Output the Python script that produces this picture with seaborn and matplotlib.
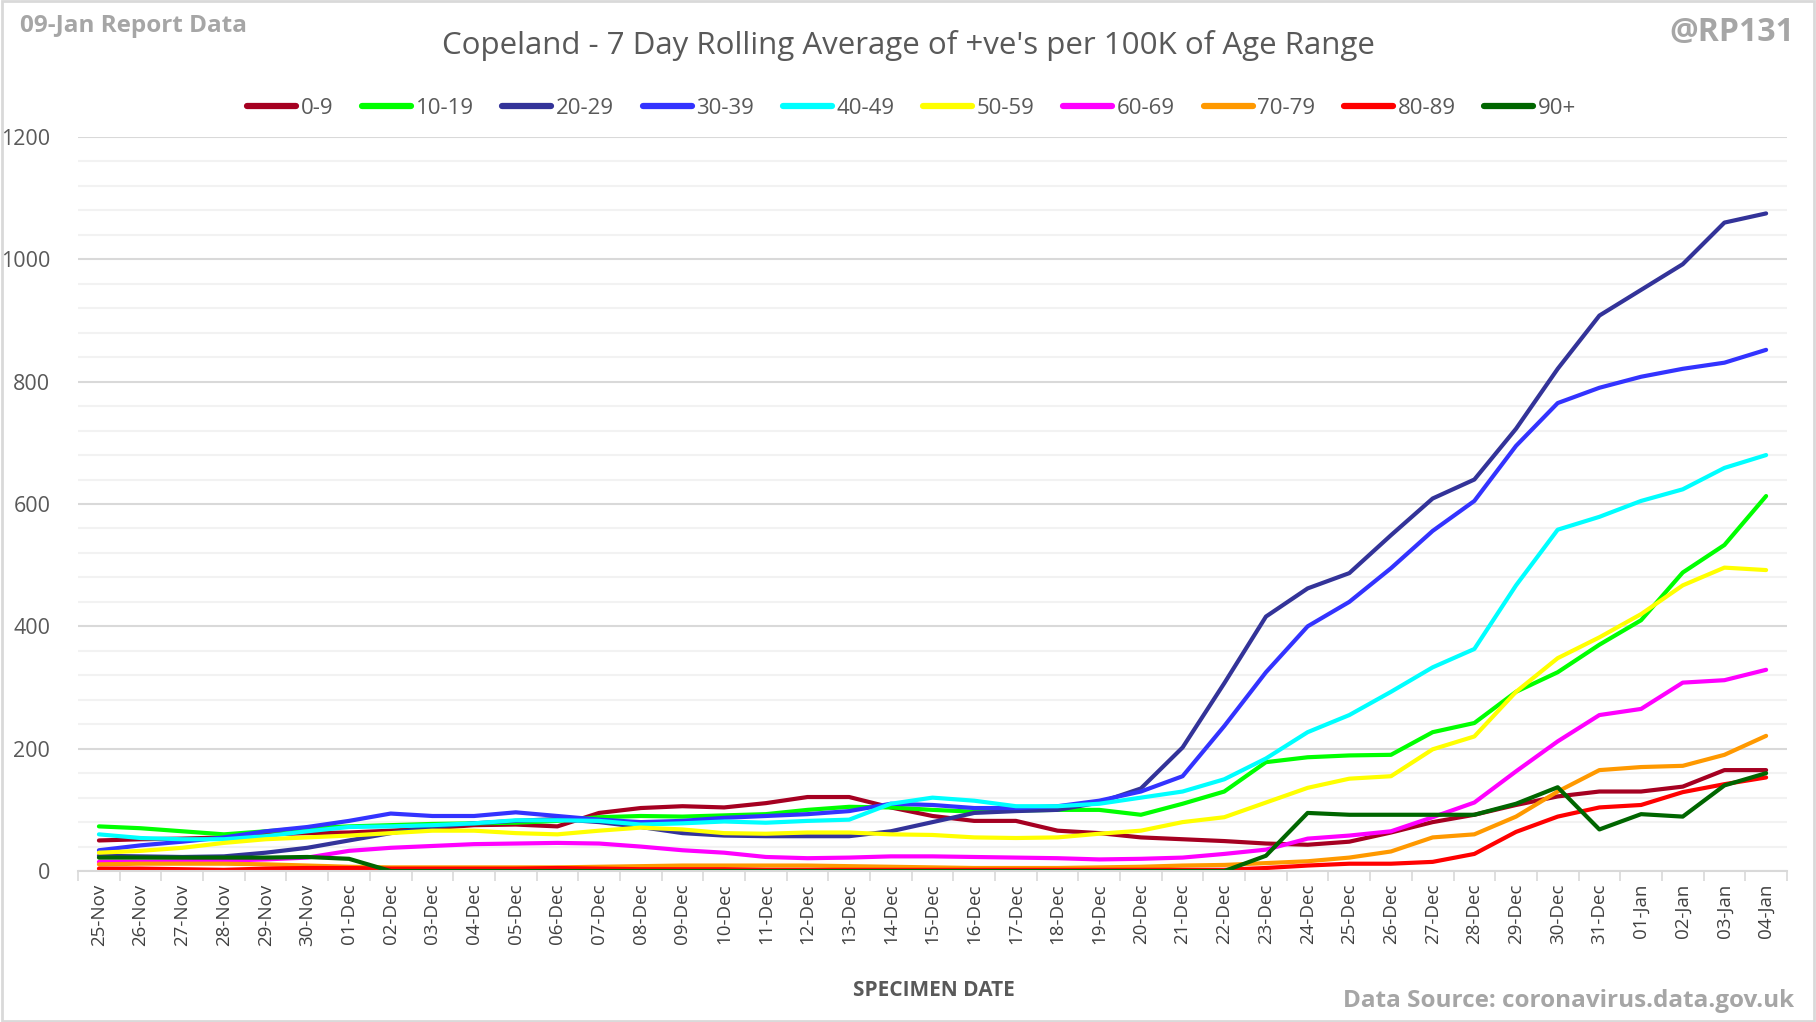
import numpy as np
import pandas as pd
import matplotlib
matplotlib.use("Agg")
import matplotlib.pyplot as plt
import seaborn as sns

# Specimen dates (category axis)
dates = ["25-Nov", "26-Nov", "27-Nov", "28-Nov", "29-Nov", "30-Nov",
         "01-Dec", "02-Dec", "03-Dec", "04-Dec", "05-Dec", "06-Dec", "07-Dec",
         "08-Dec", "09-Dec", "10-Dec", "11-Dec", "12-Dec", "13-Dec", "14-Dec",
         "15-Dec", "16-Dec", "17-Dec", "18-Dec", "19-Dec", "20-Dec", "21-Dec",
         "22-Dec", "23-Dec", "24-Dec", "25-Dec", "26-Dec", "27-Dec", "28-Dec",
         "29-Dec", "30-Dec", "31-Dec", "01-Jan", "02-Jan", "03-Jan", "04-Jan"]

# 7 day rolling average of positives per 100K, by age range
age_0_9 = [50, 52, 53, 55, 60, 62, 63, 66, 70, 75, 76, 73, 95, 103, 106, 104, 111,
           121, 121, 104, 90, 82, 82, 66, 62, 55, 52, 49, 45, 43, 48, 63, 80, 92,
           108, 122, 130, 130, 138, 165, 165]
age_10_19 = [73, 70, 65, 60, 65, 70, 73, 75, 77, 78, 79, 82, 88, 90, 89, 91, 93,
             100, 105, 104, 100, 97, 99, 100, 100, 92, 110, 130, 178, 186, 189,
             190, 227, 242, 293, 325, 370, 410, 488, 533, 613]
age_20_29 = [25, 24, 23, 24, 30, 38, 50, 62, 72, 78, 82, 85, 80, 72, 62, 58, 57,
             57, 57, 65, 80, 95, 98, 100, 112, 135, 202, 307, 416, 462, 487, 549,
             609, 640, 723, 821, 908, 950, 992, 1060, 1075]
age_30_39 = [34, 42, 48, 55, 65, 72, 82, 94, 90, 90, 96, 90, 84, 80, 82, 87, 90,
             93, 98, 110, 108, 103, 103, 106, 115, 130, 155, 237, 325, 400, 440,
             495, 556, 605, 695, 765, 790, 808, 821, 831, 852]
age_40_49 = [60, 54, 52, 52, 57, 65, 72, 73, 75, 78, 83, 83, 82, 76, 78, 81, 79,
             82, 84, 110, 120, 115, 106, 106, 110, 120, 130, 150, 184, 227, 255,
             293, 333, 363, 467, 558, 579, 605, 624, 659, 680]
age_50_59 = [30, 33, 38, 46, 52, 55, 58, 62, 66, 66, 62, 60, 66, 71, 68, 62, 61,
             63, 63, 60, 59, 55, 54, 55, 61, 66, 80, 88, 112, 136, 151, 155, 199,
             220, 293, 348, 382, 420, 467, 496, 492]
age_60_69 = [15, 15, 16, 17, 19, 22, 33, 38, 41, 44, 45, 46, 45, 40, 34, 30, 23,
             21, 22, 24, 24, 23, 22, 21, 19, 20, 22, 28, 35, 53, 58, 65, 88, 112,
             163, 212, 255, 265, 308, 312, 329]
age_70_79 = [11, 12, 12, 12, 11, 9, 7, 6, 6, 6, 6, 6, 7, 8, 9, 9, 9, 9, 8, 7, 6,
             5, 5, 5, 6, 7, 9, 10, 13, 16, 22, 32, 55, 60, 89, 130, 165, 170, 172,
             190, 221]
age_80_89 = [4, 4, 3, 2, 4, 5, 5, 4, 4, 4, 4, 5, 4, 3, 3, 3, 2, 2, 2, 2, 2, 2, 2,
             2, 2, 2, 2, 2, 5, 9, 12, 12, 15, 28, 64, 89, 104, 108, 129, 142, 153]
age_90_plus = [22, 22, 22, 22, 22, 23, 20, 0, 0, 0, 0, 0, 0, 0, 0, 0, 0, 0, 0, 0,
               0, 0, 0, 0, 0, 0, 0, 0, 25, 95, 92, 92, 92, 92, 110, 137, 68, 93,
               89, 140, 160]

age_ranges = ["0-9", "10-19", "20-29", "30-39", "40-49", "50-59", "60-69",
              "70-79", "80-89", "90+"]
series = [age_0_9, age_10_19, age_20_29, age_30_39, age_40_49, age_50_59,
          age_60_69, age_70_79, age_80_89, age_90_plus]
colours = ["#A50021", "#00FF00", "#333399", "#3333FF", "#00FFFF", "#FFFF00",
           "#FF00FF", "#FF9900", "#FF0000", "#006600"]

# long format table for seaborn
rows = []
for name, vals in zip(age_ranges, series):
    for i, v in enumerate(vals):
        rows.append({"day": i, "age": name, "rate": v})
df = pd.DataFrame(rows)

sns.set_theme(style="white")
plt.rcParams["font.family"] = ["Open Sans", "DejaVu Sans"]

fig = plt.figure(figsize=(18.16, 10.22), dpi=100)
ax = fig.add_axes([0.043, 0.1477, 0.941, 0.7183])

sns.lineplot(data=df, x="day", y="rate", hue="age", hue_order=age_ranges,
             palette=colours, linewidth=3.0, ax=ax, legend=True)
for ln in ax.get_lines():
    ln.set_solid_joinstyle("round")
    ln.set_solid_capstyle("round")

# axes styling
ax.set_xlim(-0.5, len(dates) - 0.5)
ax.set_ylim(0, 1200)
ax.set_yticks(range(0, 1201, 200))
ax.set_yticks(range(0, 1201, 40), minor=True)
ax.grid(axis="y", which="minor", color="#F2F2F2", linewidth=1.5, zorder=0)
ax.grid(axis="y", which="major", color="#D9D9D9", linewidth=1.5, zorder=0)
ax.set_axisbelow(True)
for s in ["top", "right", "left"]:
    ax.spines[s].set_visible(False)
ax.spines["bottom"].set_color("#D9D9D9")
ax.spines["bottom"].set_linewidth(1.5)

ax.set_xticks(range(len(dates)))
ax.set_xticklabels(dates, rotation=90)
ax.set_xticks(np.arange(-0.5, len(dates), 1.0), minor=True)
ax.tick_params(axis="x", which="major", length=0, pad=9, labelsize=13.5, labelcolor="#404040")
ax.tick_params(axis="x", which="minor", length=7, width=1.2, color="#D9D9D9", bottom=True)
ax.tick_params(axis="y", which="both", length=0, pad=20, labelsize=15.5, labelcolor="#595959")
ax.set_xlabel("")
ax.set_ylabel("")

# legend across the top
handles, labels = ax.get_legend_handles_labels()
ax.get_legend().remove()
leg = fig.legend(handles, labels, loc="center", bbox_to_anchor=(0.502, 0.894),
                 ncol=10, frameon=False, fontsize=16, handlelength=2.2,
                 columnspacing=1.3, handletextpad=0.2)
for h in leg.get_lines():
    h.set_linewidth(4.5)
    h.set_solid_capstyle("round")
for t in leg.get_texts():
    t.set_color("#595959")

# titles and notes
fig.text(0.5, 0.955, "Copeland - 7 Day Rolling Average of +ve's per 100K of Age Range",
         ha="center", va="center", fontsize=22.5, color="#595959")
fig.text(0.011, 0.975, "09-Jan Report Data", ha="left", va="center",
         fontsize=17.5, fontweight="bold", color="#A6A6A6")
fig.text(0.988, 0.968, "@RP131", ha="right", va="center",
         fontsize=23, fontweight="bold", color="#A6A6A6")
fig.text(0.514, 0.031, "SPECIMEN DATE", ha="center", va="center",
         fontsize=15, fontweight="bold", color="#595959")
fig.text(0.988, 0.021, "Data Source: coronavirus.data.gov.uk", ha="right", va="center",
         fontsize=17.5, fontweight="bold", color="#A6A6A6")

# outer chart border
fig.add_artist(plt.Rectangle((0.001, 0.001), 0.998, 0.998, transform=fig.transFigure,
                             fill=False, edgecolor="#D9D9D9", linewidth=2))

fig.savefig("out.png", dpi=100)
